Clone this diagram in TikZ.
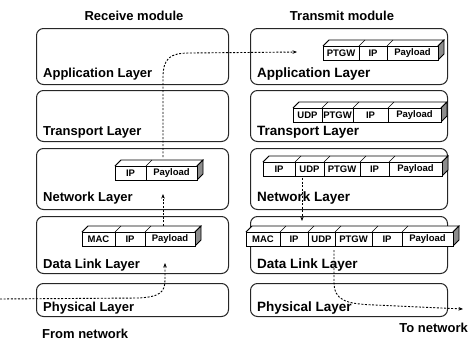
\documentclass[tikz,border=0pt]{standalone}
\usepackage{fontspec}
\setmainfont{Liberation Sans}
\usetikzlibrary{arrows.meta}
\tikzset{
 layerbox/.style={draw=black!85, line width=1pt, rounded corners=7pt, anchor=north west, inner sep=0pt},
 lbl/.style={anchor=base west, inner sep=0pt, font=\fontsize{13}{13}\selectfont\bfseries},
 rlbl/.style={anchor=base west, inner sep=0pt, font=\fontsize{13.5}{13.5}\selectfont\bfseries},
 hdr/.style={inner sep=0pt, font=\fontsize{13}{13}\selectfont\bfseries},
 cell/.style={draw, fill=white, line width=0.8pt, inner sep=0pt, minimum height=14pt, font=\fontsize{9.5}{9.5}\selectfont\bfseries},
 flow/.style={line width=0.9pt, dash pattern=on 2pt off 1.6pt, -{Stealth[length=4.5pt,width=3.5pt]}},
}
\newcommand{\pkt}[5]{%
  \fill[white] (#3,#2) -- ({#3+6},{#2-6}) -- ({#4+6},{#2-6}) -- (#4,#2) -- cycle;
  \draw[line width=0.8pt] (#3,#2) -- ({#3+6},{#2-6}) -- ({#4+6},{#2-6}) -- (#4,#2);
  \filldraw[fill=black!45, line width=0.8pt] (#4,#2) -- ({#4+6},{#2-6}) -- ({#4+6},{#2+8}) -- (#4,{#2+14}) -- cycle;
  \foreach \xa/\xb/\tx [count=\k] in {#5}{
    \node[cell, minimum width={(\xb-\xa)*1pt}] (#1-\k) at ({(\xa+\xb)/2},{#2+7}) {\tx};
    \draw[line width=0.6pt] (\xa,#2) -- ({\xa+6},{#2-6});
  }
}
\begin{document}
\begin{tikzpicture}[x=1pt,y=-1pt]
\useasboundingbox (0,0) rectangle (469,343);
% headers
\node[hdr] (hrx) at (134,16) {Receive module};
\node[hdr] (htx) at (342,16) {Transmit module};
% left boxes
\node[layerbox, minimum width=192pt, minimum height=56pt] (lapp) at (36,28) {};
\node[layerbox, minimum width=192pt, minimum height=51pt] (ltr) at (36,90) {};
\node[layerbox, minimum width=192pt, minimum height=61pt] (lnet) at (36,148) {};
\node[layerbox, minimum width=192pt, minimum height=57pt] (ldl) at (36,216) {};
\node[layerbox, minimum width=192pt, minimum height=33pt] (lph) at (36,283) {};
\node[lbl] (lapp-t) at (43,77) {Application Layer};
\node[lbl] (ltr-t) at (43,135) {Transport Layer};
\node[lbl] (lnet-t) at (43,201) {Network Layer};
\node[lbl] (ldl-t) at (43,268) {Data Link Layer};
\node[lbl] (lph-t) at (43,311) {Physical Layer};
% right boxes
\node[layerbox, minimum width=197pt, minimum height=56pt] (rapp) at (250,28) {};
\node[layerbox, minimum width=197pt, minimum height=51pt] (rtr) at (250,90) {};
\node[layerbox, minimum width=197pt, minimum height=61pt] (rnet) at (250,148) {};
\node[layerbox, minimum width=197pt, minimum height=57pt] (rdl) at (250,216) {};
\node[layerbox, minimum width=197pt, minimum height=33pt] (rph) at (250,283) {};
\node[rlbl] (rapp-t) at (257,77) {Application Layer};
\node[rlbl] (rtr-t) at (257,135) {Transport Layer};
\node[rlbl] (rnet-t) at (257,201) {Network Layer};
\node[rlbl] (rdl-t) at (257,268) {Data Link Layer};
\node[rlbl] (rph-t) at (257,311) {Physical Layer};
% packets
\pkt{pln}{166}{115}{197}{115/146/IP,146/197/Payload}
\pkt{pld}{232}{82}{195}{82/115/MAC,115/145/IP,145/195/Payload}
\pkt{pra}{46}{323}{438}{323/359/PTGW,359/387/IP,387/438/Payload}
\pkt{prt}{108}{293}{441}{293/322/UDP,322/353/PTGW,353/388/IP,388/441/Payload}
\pkt{prn}{162}{263}{442}{263/295/IP,295/324/UDP,324/360/PTGW,360/389/IP,389/442/Payload}
\pkt{prd}{232}{246}{453}{246/280/MAC,280/308/IP,308/335/UDP,335/372/PTGW,372/402/IP,402/453/Payload}
% outside labels
\node[hdr, anchor=west] (from) at (42,334) {From network};
\node[hdr, anchor=east] (to) at (468,328) {To network};
% flows
\coordinate (in) at (0,299);
\coordinate (a1) at (165,263);
\draw[flow] (in) -- (138,298) .. controls (160,297) and (165,292) .. (165,280) -- (a1);
\coordinate (b0) at (163,226);
\coordinate (b1) at (163,194);
\draw[flow] (b0) -- (b1);
\coordinate (c0) at (163,157);
\coordinate (c1) at (297,52);
\draw[flow] (c0) -- (163,78) .. controls (163,58) and (170,53) .. (190,53) -- (c1);
\coordinate (d0) at (302,178);
\coordinate (d1) at (302,221);
\draw[flow] (d0) -- (d1);
\coordinate (e0) at (334,250);
\coordinate (e1) at (463,309);
\draw[flow] (e0) -- (334,282) .. controls (334,300) and (345,304) .. (375,305) -- (e1);
\end{tikzpicture}
\end{document}
